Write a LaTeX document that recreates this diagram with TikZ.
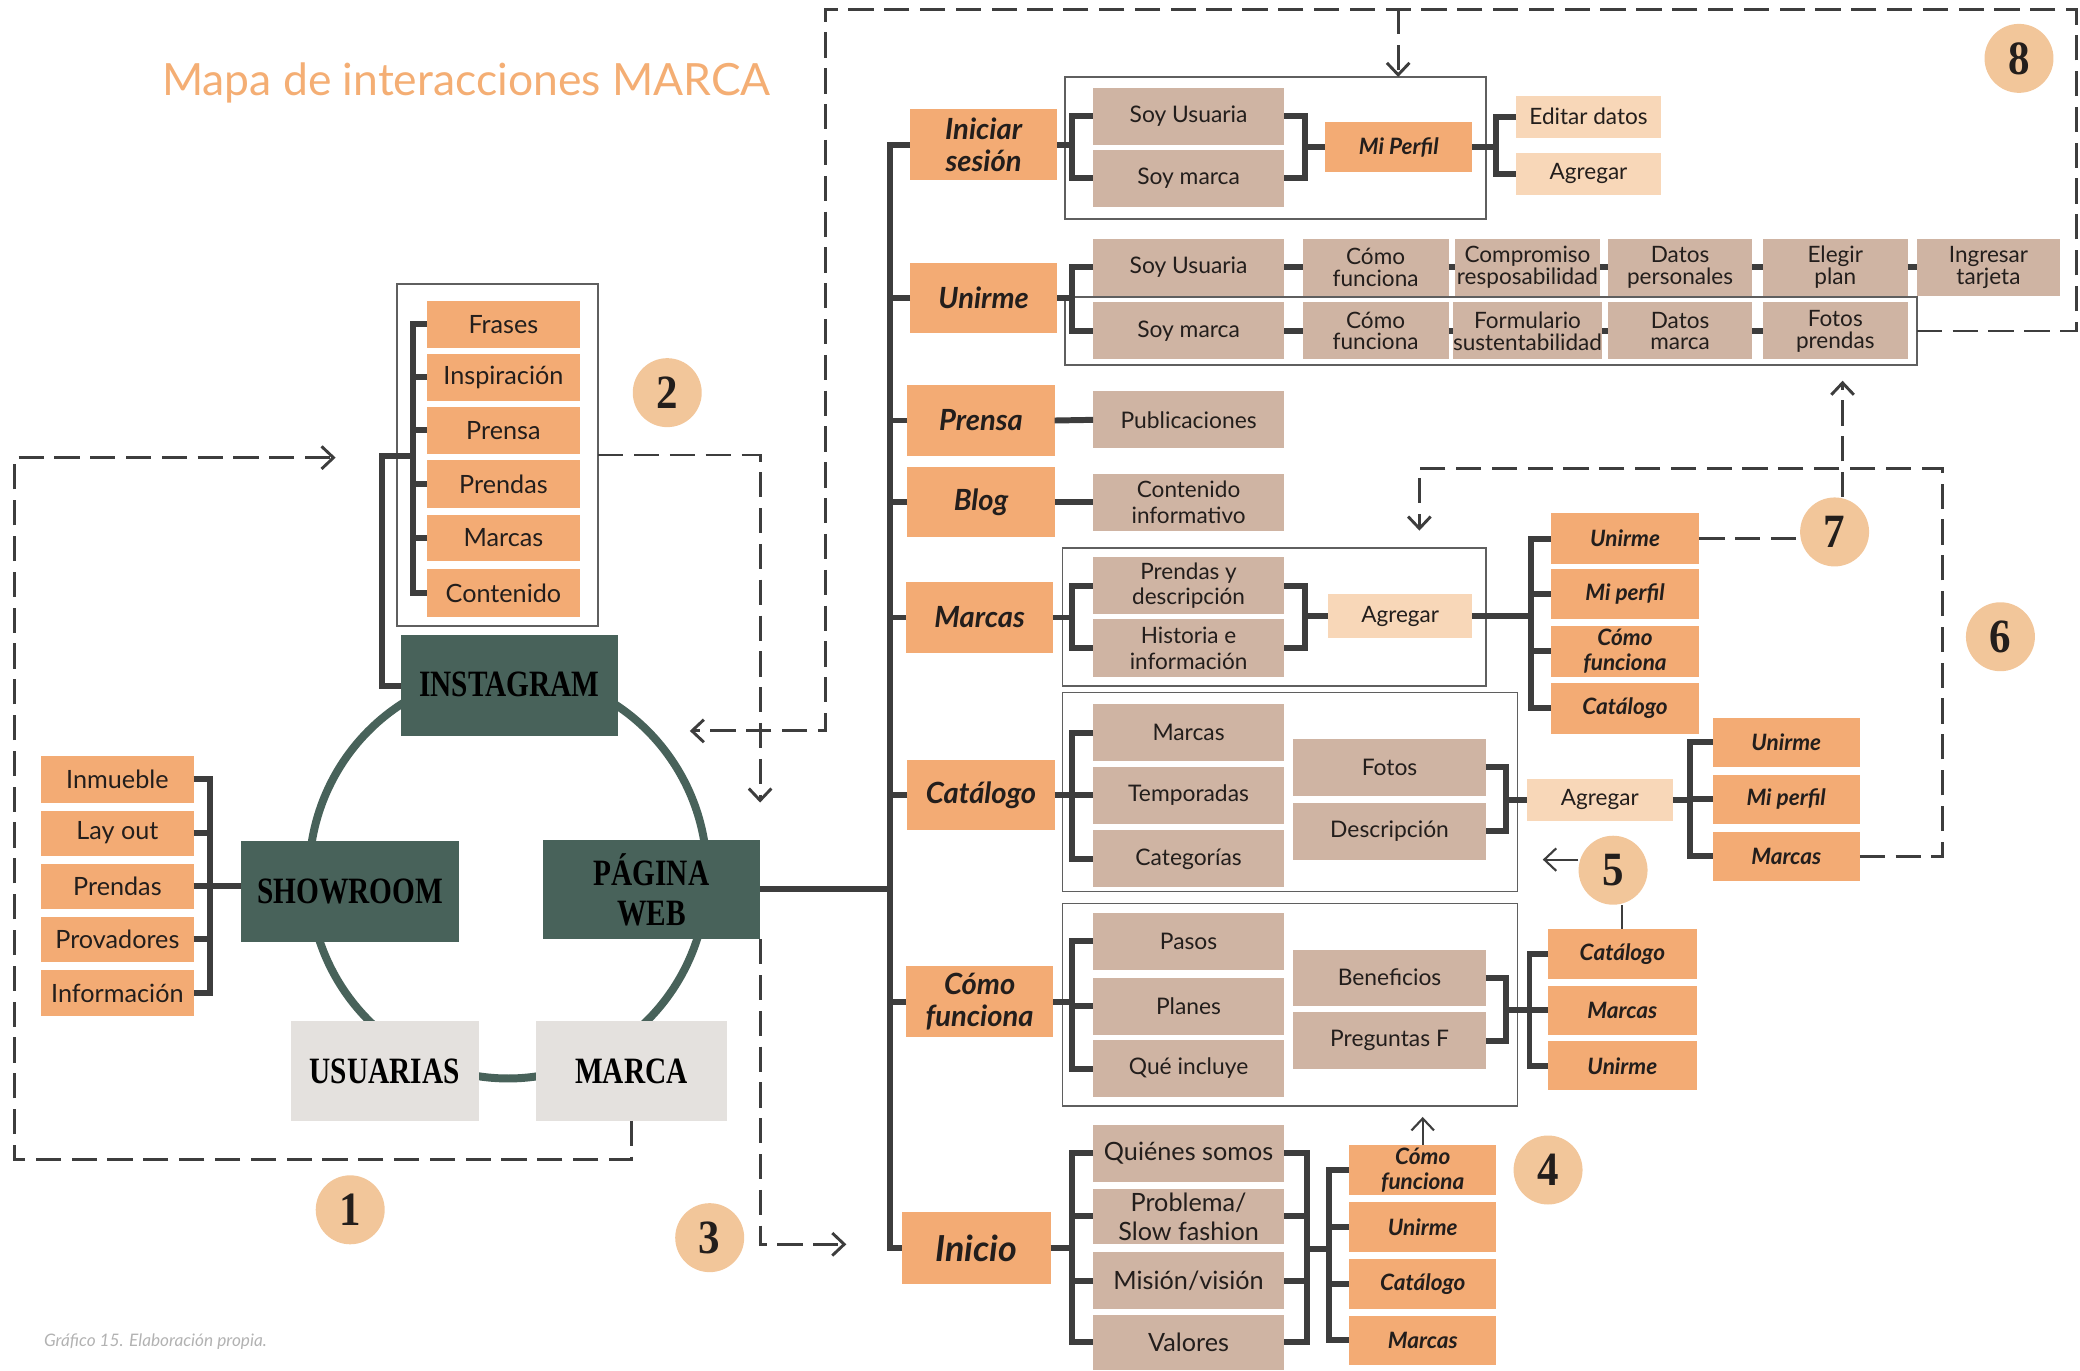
\documentclass[tikz,border=0pt]{standalone}
\usepackage{fontspec}
\setmainfont{Lato}
\newfontfamily\blk{Liberation Serif}[FakeStretch=0.79]
\newfontfamily\numf{Liberation Serif}[FakeStretch=0.9]
\usetikzlibrary{arrows.meta,calc}
\definecolor{org}{RGB}{243,171,116}
\definecolor{taupe}{RGB}{207,180,163}
\definecolor{lorg}{RGB}{248,215,184}
\definecolor{dgreen}{RGB}{72,98,90}
\definecolor{lgray}{RGB}{228,225,222}
\definecolor{circ}{RGB}{242,198,154}
\definecolor{lc}{RGB}{61,61,61}
\definecolor{framec}{RGB}{95,95,95}
\definecolor{txt}{RGB}{35,30,28}
\definecolor{titlec}{RGB}{244,174,116}
\definecolor{capc}{RGB}{178,178,178}
\newcommand\mybox[7]{%
  \pgfmathsetmacro\bxcx{(#3+#5)/2}%
  \pgfmathsetmacro\bxcy{(#4+#6)/2}%
  \pgfmathsetmacro\bxw{#5-#3}%
  \pgfmathsetmacro\bxh{#6-#4}%
  \node[#2, minimum width=\bxw pt, minimum height=\bxh pt] (#1) at (\bxcx,\bxcy) {#7};}
\tikzset{
  base/.style={inner sep=0pt, outer sep=0pt, align=center, text=txt},
  orgbox/.style={base, fill=org, font=\fontsize{19}{21}\selectfont},
  catbox/.style={base, fill=org, font=\fontsize{22}{24}\selectfont\bfseries\itshape},
  subbox/.style={base, fill=org, font=\fontsize{17}{19}\selectfont\bfseries\itshape},
  tp/.style={base, fill=taupe, font=\fontsize{17.2}{18}\selectfont},
  tpbig/.style={base, fill=taupe, font=\fontsize{19}{22}\selectfont},
  tptwo/.style={base, fill=taupe, font=\fontsize{17}{16.5}\selectfont},
  tploose/.style={base, fill=taupe, font=\fontsize{17}{19.5}\selectfont},
  lo/.style={base, fill=lorg, font=\fontsize{17}{19}\selectfont},
  gbox/.style={base, fill=dgreen, text=black, font=\fontsize{28}{30}\selectfont\blk\bfseries},
  wbox/.style={base, fill=lgray, text=black, font=\fontsize{28}{30}\selectfont\blk\bfseries},
  frame/.style={base, draw=framec, line width=1.3pt},
  conn/.style={draw=lc, line width=4.5pt},
  dsh/.style={draw=lc, line width=2.2pt, dash pattern=on 19pt off 8pt},
  thinl/.style={draw=lc, line width=1.6pt},
  arr/.style={-{Straight Barb[length=9pt,width=17pt]}},
  num/.style={circle, fill=circ, minimum size=52pt, inner sep=0pt, text=txt, font=\fontsize{36}{36}\selectfont\numf\bfseries},
}
\begin{document}
\begin{tikzpicture}[x=1pt,y=-1pt]
\useasboundingbox (0,0) rectangle (1568,1033);
% title and caption
\node[anchor=base west, inner sep=0pt, text=titlec, font=\fontsize{33.5}{33.5}\selectfont] (title) at (122,72) {Mapa de interacciones MARCA};
\node[anchor=base west, inner sep=0pt, text=capc, font=\fontsize{13}{13}\selectfont\itshape] (caption) at (33,1015) {Gráfico 15. Elaboración propia.};

% ===== left part =====
\draw[dgreen, line width=6pt] (383,660) ellipse [x radius=150, y radius=153];
\mybox{igf}{frame}{299}{214}{451}{472}{}
\mybox{lfr}{orgbox}{322}{227}{437}{262}{Frases}
\mybox{lin}{orgbox}{322}{267}{437}{302}{Inspiración}
\mybox{lpr}{orgbox}{322}{307}{437}{342}{Prensa}
\mybox{lpd}{orgbox}{322}{347}{437}{383}{Prendas}
\mybox{lma}{orgbox}{322}{388}{437}{423}{Marcas}
\mybox{lco}{orgbox}{322}{429}{437}{465}{Contenido}
\mybox{ig}{gbox}{302}{479}{466}{555}{\raisebox{3pt}{INSTAGRAM}}
\mybox{sr}{gbox}{182}{634}{346}{710}{SHOWROOM}
\mybox{web}{gbox}{409}{633}{573}{708}{PÁGINA\\WEB}
\mybox{us}{wbox}{219}{770}{361}{845}{USUARIAS}
\mybox{mc}{wbox}{404}{770}{548}{845}{MARCA}
\mybox{s1}{orgbox}{31}{570}{146}{605}{Inmueble}
\mybox{s2}{orgbox}{31}{611}{146}{645}{Lay out}
\mybox{s3}{orgbox}{31}{651}{146}{685}{Prendas}
\mybox{s4}{orgbox}{31}{691}{146}{725}{Provadores}
\mybox{s5}{orgbox}{31}{731}{146}{766}{Información}

\draw[conn] (lfr.west) -- ++(-11,0) |- (lco.west);
\foreach \n in {lin,lpr,lpd,lma} \draw[conn] (\n.west) -- ++(-11,0);
\coordinate (j2) at (311,344);
\draw[conn] (j2) -- ++(-23,0) |- (ig.west);
\draw[conn] (s1.east) -- ++(12,0) |- (s5.east);
\foreach \n in {s2,s4} \draw[conn] (\n.east) -- ++(12,0);
\draw[conn] (s3.east) -- (s3.east -| sr.west);

% ===== right part =====
\coordinate (tr) at (671,0);
\mybox{ini}{catbox}{686}{82}{797}{136}{Iniciar\\sesión}
\mybox{uni}{catbox}{686}{198}{797}{251}{Unirme}
\mybox{pre}{catbox}{684}{290}{795}{344}{Prensa}
\mybox{blog}{catbox}{684}{352}{795}{405}{Blog}
\mybox{mar}{catbox}{683}{439}{794}{492}{Marcas}
\mybox{cat}{catbox}{684}{573}{795}{626}{Catálogo}
\mybox{com}{catbox}{683}{728}{794}{782}{Cómo\\funciona}
\mybox{inicio}{catbox, font=\fontsize{27}{29}\selectfont\bfseries\itshape}{680}{914}{792}{968}{Inicio}

\draw[conn] (ini.west) -- (ini.west -| tr) -- (inicio.west -| tr) -- (inicio.west);
\foreach \n in {uni,pre,blog,mar,cat,com} \draw[conn] (\n.west) -- (\n.west -| tr);
\draw[conn] (web.east) -- (web.east -| tr);

% Iniciar sesion group
\mybox{fr1}{frame}{803}{58}{1120}{165}{}
\mybox{su1}{tp}{824}{66}{968}{109}{Soy Usuaria}
\mybox{sm1}{tp}{824}{113}{968}{156}{Soy marca}
\mybox{perfil}{subbox}{999}{92}{1110}{130}{Mi Perfil}
\mybox{edit}{lo}{1143}{72}{1252}{104}{Editar datos}
\mybox{agr1}{lo}{1143}{115}{1252}{147}{Agregar}
\draw[conn] (ini.east) -- ++(11,0);
\draw[conn] (su1.west) -- ++(-16,0) |- (sm1.west);
\draw[conn] (su1.east) -- ++(16,0) |- (sm1.east);
\draw[conn] (perfil.west) -- ++(-15,0);
\draw[conn] (perfil.east) -- ++(18,0);
\draw[conn] (edit.west) -- ++(-15,0) |- (agr1.west);

% Unirme group
\mybox{fr2}{frame}{803}{224}{1445}{275}{}
\mybox{su2}{tp}{824}{180}{968}{223}{Soy Usuaria}
\mybox{cf1}{tptwo}{982}{180}{1092}{223}{Cómo\\funciona}
\mybox{comp}{tptwo}{1097}{180}{1206}{223}{Compromiso\\resposabilidad}
\mybox{dp}{tptwo}{1212}{180}{1321}{223}{Datos\\personales}
\mybox{ep}{tptwo}{1329}{180}{1438}{223}{Elegir\\plan}
\mybox{it}{tptwo}{1445}{180}{1553}{223}{Ingresar\\tarjeta}
\mybox{sm2}{tp}{824}{228}{968}{271}{Soy marca}
\mybox{cf2}{tptwo}{982}{228}{1092}{271}{Cómo\\funciona}
\mybox{form}{tptwo}{1097}{228}{1206}{271}{Formulario\\sustentabilidad}
\mybox{dm}{tptwo}{1212}{228}{1321}{271}{Datos\\marca}
\mybox{fp}{tptwo}{1329}{228}{1438}{271}{Fotos\\prendas}
\draw[conn] (uni.east) -- ++(11,0);
\draw[conn] (su2.west) -- ++(-16,0) |- (sm2.west);
\draw[conn] (su2.east) -- (cf1.west);
\draw[conn] (cf1.east) -- (comp.west);
\draw[conn] (comp.east) -- (dp.west);
\draw[conn] (dp.east) -- (ep.west);
\draw[conn] (ep.east) -- (it.west);
\draw[conn] (sm2.east) -- (cf2.west);
\draw[conn] (cf2.east) -- (form.west);
\draw[conn] (form.east) -- (dm.west);
\draw[conn] (dm.east) -- (fp.west);

% Prensa, Blog
\mybox{pub}{tp}{824}{295}{968}{338}{Publicaciones}
\mybox{ci}{tploose}{824}{357}{968}{400}{Contenido\\informativo}
\draw[conn] (pre.east) -- (pub.west);
\draw[conn] (blog.east) -- (ci.west);

% Marcas group
\mybox{fr3}{frame}{801}{413}{1120}{517}{}
\mybox{pd}{tploose}{824}{420}{968}{463}{Prendas y\\descripción}
\mybox{hi}{tploose}{824}{467}{968}{510}{Historia e\\información}
\mybox{agr2}{lo}{1001}{448}{1110}{481}{Agregar}
\mybox{muni}{subbox}{1169}{387}{1281}{425}{Unirme}
\mybox{mper}{subbox}{1169}{429}{1281}{467}{Mi perfil}
\mybox{mcom}{subbox}{1169}{472}{1281}{510}{Cómo\\funciona}
\mybox{mcat}{subbox}{1169}{515}{1281}{553}{Catálogo}
\draw[conn] (mar.east) -- ++(14,0);
\draw[conn] (pd.west) -- ++(-16,0) |- (hi.west);
\draw[conn] (pd.east) -- ++(16,0) |- (hi.east);
\draw[conn] (agr2.west) -- ++(-17,0);
\draw[conn] (agr2.east) -- ++(44,0);
\draw[conn] (muni.west) -- ++(-15,0) |- (mcat.west);
\foreach \n in {mper,mcom} \draw[conn] (\n.west) -- ++(-15,0);

% Catalogo group
\mybox{fr4}{frame}{801}{522}{1144}{672}{}
\mybox{cmar}{tp}{824}{531}{968}{574}{Marcas}
\mybox{ctem}{tp}{824}{578}{968}{621}{Temporadas}
\mybox{ccat}{tp}{824}{626}{968}{669}{Categorías}
\mybox{fotos}{tp}{975}{557}{1120}{600}{Fotos}
\mybox{desc}{tp}{975}{605}{1120}{648}{Descripción}
\mybox{agr3}{lo}{1151}{587}{1261}{619}{Agregar}
\mybox{cuni}{subbox}{1291}{541}{1402}{578}{Unirme}
\mybox{cper}{subbox}{1291}{584}{1402}{621}{Mi perfil}
\mybox{cmar2}{subbox}{1291}{627}{1402}{664}{Marcas}
\draw[conn] (cat.east) -- ++(13,0);
\draw[conn] (cmar.west) -- ++(-16,0) |- (ccat.west);
\draw[conn] (ctem.west) -- ++(-16,0);
\draw[conn] (fotos.east) -- ++(15,0) |- (desc.east);
\draw[conn] (agr3.west) -- ++(-16,0);
\draw[conn] (agr3.east) -- ++(13,0);
\draw[conn] (cuni.west) -- ++(-17,0) |- (cmar2.west);
\draw[conn] (cper.west) -- ++(-17,0);

% Como funciona group
\mybox{fr5}{frame}{801}{681}{1144}{834}{}
\mybox{pasos}{tp}{824}{688}{968}{731}{Pasos}
\mybox{planes}{tp}{824}{737}{968}{780}{Planes}
\mybox{que}{tp}{824}{784}{968}{827}{Qué incluye}
\mybox{benef}{tp}{975}{716}{1120}{758}{Beneficios}
\mybox{preg}{tp}{975}{763}{1120}{806}{Preguntas F}
\mybox{fcat}{subbox}{1167}{700}{1279}{738}{Catálogo}
\mybox{fmar}{subbox}{1167}{743}{1279}{780}{Marcas}
\mybox{funi}{subbox}{1167}{785}{1279}{822}{Unirme}
\draw[conn] (com.east) -- ++(14,0);
\draw[conn] (pasos.west) -- ++(-16,0) |- (que.west);
\draw[conn] (planes.west) -- ++(-16,0);
\draw[conn] (benef.east) -- ++(15,0) |- (preg.east);
\draw[conn] (fcat.west) -- ++(-14,0) |- (funi.west);
\draw[conn] (fmar.west) -- ++(-32,0);

% Inicio group
\mybox{qs}{tpbig}{824}{848}{968}{891}{Quiénes somos}
\mybox{prob}{tpbig}{824}{896}{968}{938}{Problema/\\Slow fashion}
\mybox{mis}{tpbig}{824}{944}{968}{987}{Misión/visión}
\mybox{val}{tpbig}{824}{991}{968}{1033}{Valores}
\mybox{icom}{subbox}{1017}{863}{1128}{901}{Cómo\\funciona}
\mybox{iuni}{subbox}{1017}{906}{1128}{944}{Unirme}
\mybox{icat}{subbox}{1017}{949}{1128}{987}{Catálogo}
\mybox{imar}{subbox}{1017}{992}{1128}{1029}{Marcas}
\draw[conn] (inicio.east) -- ++(16,0);
\draw[conn] (qs.west) -- ++(-16,0) |- (val.west);
\foreach \n in {prob,mis} \draw[conn] (\n.west) -- ++(-16,0);
\draw[conn] (qs.east) -- ++(17,0) |- (val.east);
\foreach \n in {prob,mis} \draw[conn] (\n.east) -- ++(17,0);
\draw[conn] ($(prob.east)!0.5!(mis.east)+(17,0)$) -- ++(17,0);
\draw[conn] (icom.west) -- ++(-15,0) |- (imar.west);
\foreach \n in {iuni,icat} \draw[conn] (\n.west) -- ++(-15,0);

% ===== number circles =====
\node[num] (n1) at (264,912) {1};
\node[num] (n2) at (503,296) {2};
\node[num] (n3) at (535,933) {3};
\node[num] (n4) at (1167,882) {4};
\node[num] (n5) at (1216,656) {5};
\node[num] (n6) at (1508,480) {6};
\node[num] (n7) at (1383,401) {7};
\node[num] (n8) at (1522,44) {8};

% ===== dashed flows =====
\coordinate (a1) at (253,345);
\draw[dsh,arr] (mc.south) -- (476,874) -- (11,874) -- (11,345) -- (a1);
\coordinate (a2) at (573,605);
\draw[dsh,arr] (igf.east) -- (573,343) -- (a2);
\coordinate (a3) at (638,938);
\draw[dsh,arr] (web.south east) -- (573,938) -- (a3);
\coordinate (a8) at (520,551);
\draw[dsh,arr] (fr2.east) -- (1565,249.5) -- (1565,7) -- (622,7) -- (622,551) -- (a8);
\coordinate (t8) at (1054,7);
\draw[dsh,arr] (t8) -- (t8 |- fr1.north);
\coordinate (a6) at (1070,400);
\draw[dsh,arr] (cmar2.east) -- (1464,645.5) -- (1464,353) -- (1070,353) -- (a6);
\draw[dsh] (muni.east) -- (muni.east -| n7.west);
\coordinate (a7) at (1389,287);
\draw[dsh,arr] (a7 |- n7.north) -- (a7);
\coordinate (a5) at (1163,648);
\draw[thinl,arr] (n5.west |- a5) -- (a5);
\draw[thinl] (fcat.north) -- (fcat.north |- n5.south);
\draw[thinl,arr] (icom.north) -- ++(0,-21);
\end{tikzpicture}
\end{document}
